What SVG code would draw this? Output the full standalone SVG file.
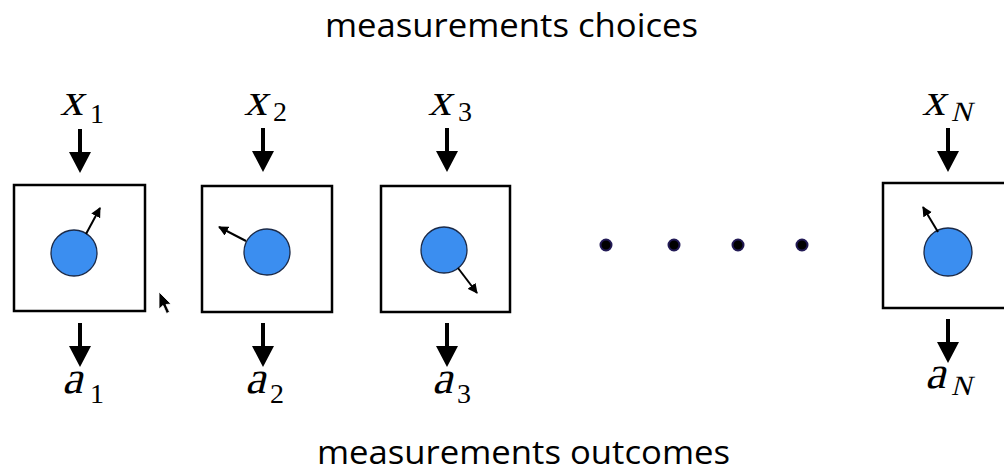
<svg xmlns="http://www.w3.org/2000/svg" xmlns:xlink="http://www.w3.org/1999/xlink" width="1004" height="473" viewBox="0 0 1004 473">
<style>
.title{font-family:"Open Sans","Liberation Sans",sans-serif;font-size:33px;fill:#000}
.math{font-family:"Liberation Serif","DejaVu Serif",serif;font-style:normal;font-size:46px;fill:#000}
.sub{font-family:"Liberation Serif","DejaVu Serif",serif;font-style:normal;font-size:28px;fill:#000}
.box{fill:#fff;stroke:#000;stroke-width:2.5}
.q{fill:#3b8ef0;stroke:#1b2a48;stroke-width:1.3}
.spin{stroke:#000;stroke-width:2;fill:none;marker-end:url(#sh)}
.dot{fill:#000;stroke:#221a55;stroke-width:2}
</style>
<defs>
<marker id="sh" viewBox="0 0 10 10" refX="9" refY="5" markerWidth="5" markerHeight="5" orient="auto" markerUnits="strokeWidth">
<path d="M0,0 L10,5 L0,10 z" fill="#000"/>
</marker>
<path id="big" d="M-2,-44 L2,-44 L2,-21 L11,-21 L0,0 L-11,-21 L-2,-21 z" fill="#000"/>
</defs>
<rect width="1004" height="473" fill="#fff"/>
<text class="title" x="325" y="37" textLength="373" lengthAdjust="spacingAndGlyphs">measurements choices</text>
<text class="title" x="317" y="464" textLength="413" lengthAdjust="spacingAndGlyphs">measurements outcomes</text>

<g id="connectors">
<use xlink:href="#big" x="80" y="173"/>
<use xlink:href="#big" x="263" y="172"/>
<use xlink:href="#big" x="447" y="172"/>
<use xlink:href="#big" x="948" y="172"/>
<use xlink:href="#big" x="80" y="367"/>
<use xlink:href="#big" x="263" y="367"/>
<use xlink:href="#big" x="447" y="367"/>
<use xlink:href="#big" x="948" y="363"/>
</g>

<g id="node1">
<rect class="box" x="14" y="185" width="131" height="126"/>
<circle class="q" cx="74" cy="253" r="23"/>
<line class="spin" x1="86" y1="234" x2="100" y2="208"/>
<text class="math" transform="translate(60,115) skewX(-14)">x</text>
<text class="sub" x="90" y="123">1</text>
<text class="math" transform="translate(62,393) skewX(-14)">a</text>
<text class="sub" x="90" y="403">1</text>
</g>
<g id="node2">
<rect class="box" x="202" y="186" width="130" height="126"/>
<circle class="q" cx="267" cy="252" r="23"/>
<line class="spin" x1="246" y1="241" x2="219" y2="227"/>
<text class="math" transform="translate(244,115) skewX(-14)">x</text>
<text class="sub" x="273" y="121">2</text>
<text class="math" transform="translate(245,393) skewX(-14)">a</text>
<text class="sub" x="270" y="403">2</text>
</g>
<g id="node3">
<rect class="box" x="381" y="186" width="129" height="126"/>
<circle class="q" cx="444" cy="250" r="23"/>
<line class="spin" x1="458" y1="268" x2="477" y2="293"/>
<text class="math" transform="translate(428,115) skewX(-14)">x</text>
<text class="sub" x="458" y="121">3</text>
<text class="math" transform="translate(432,393) skewX(-14)">a</text>
<text class="sub" x="457" y="403">3</text>
</g>
<g id="dots">
<circle class="dot" cx="606" cy="245" r="5.5"/>
<circle class="dot" cx="674" cy="245" r="5.5"/>
<circle class="dot" cx="738" cy="245" r="5.5"/>
<circle class="dot" cx="802" cy="245" r="5.5"/>
</g>
<g id="nodeN">
<rect class="box" x="883" y="183" width="140" height="125"/>
<circle class="q" cx="948" cy="252" r="24"/>
<line class="spin" x1="938" y1="232" x2="923" y2="207"/>
<text class="math" transform="translate(922,115) skewX(-14)">x</text>
<text class="sub" transform="translate(951,121) skewX(-14)">N</text>
<text class="math" transform="translate(925,388) skewX(-14)">a</text>
<text class="sub" transform="translate(951,395) skewX(-14)">N</text>
</g>
<g id="cursor">
<path d="M159,292 L159,309 L163,305.5 L166.5,313.5 L169.5,312 L166,304.5 L171,304 z" fill="#000" stroke="#fff" stroke-width="0.8"/>
</g>
</svg>
